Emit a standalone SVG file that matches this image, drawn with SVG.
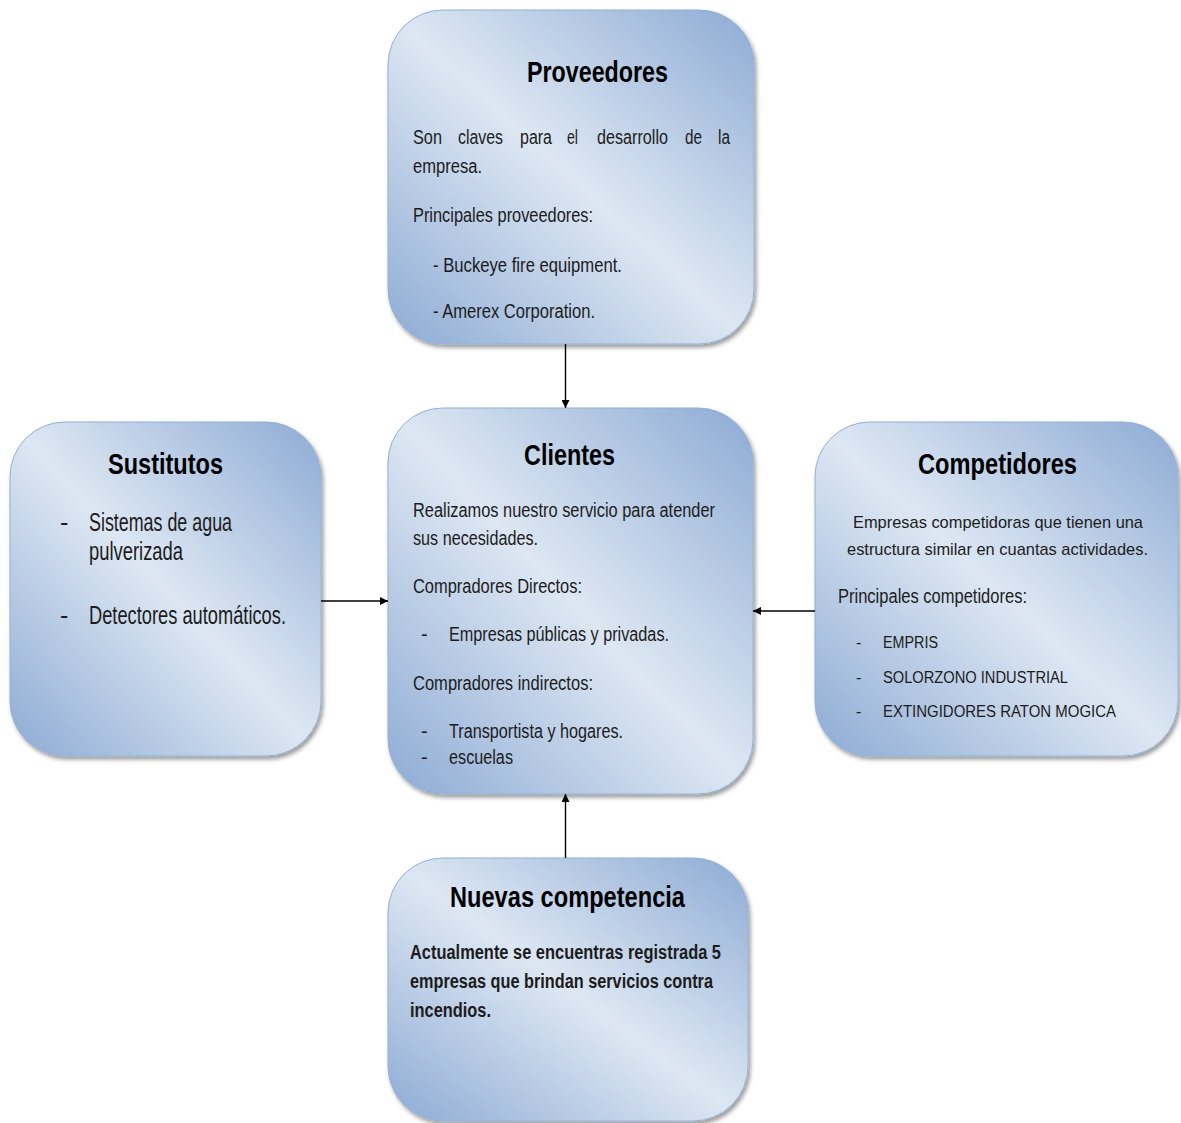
<svg xmlns="http://www.w3.org/2000/svg" width="1181" height="1123" viewBox="0 0 1181 1123">
  <defs>
    <linearGradient id="boxFill" x1="0" y1="1" x2="1" y2="0">
      <stop offset="0" stop-color="#8dabd4"/>
      <stop offset="0.5" stop-color="#dde7f3"/>
      <stop offset="1" stop-color="#8dabd4"/>
    </linearGradient>
    <filter id="shadow" x="-10%" y="-10%" width="125%" height="125%">
      <feDropShadow dx="2" dy="3" stdDeviation="2" flood-color="#000" flood-opacity="0.4"/>
    </filter>
    <marker id="arrow" viewBox="0 0 10 10" refX="10" refY="5" markerWidth="9" markerHeight="8" markerUnits="userSpaceOnUse" orient="auto">
      <path d="M0,0 L10,5 L0,10 z" fill="#000"/>
    </marker>
  </defs>
  <style>
    .box { fill: url(#boxFill); stroke: #94b0d6; stroke-width: 1; filter: url(#shadow); }
    .title { font-family: "Liberation Sans Narrow", "Liberation Sans", Arial, sans-serif; font-weight: bold; font-size: 29px; fill: #000; }
    .body { font-family: "Liberation Sans Narrow", "Liberation Sans", Arial, sans-serif; font-size: 20px; fill: #1c1c1c; }
    .big { font-size: 25px; }
    .mid { font-size: 17px; }
    .small { font-size: 16px; }
    .strong { font-weight: bold; }
    .link { stroke: #000; stroke-width: 1.4; fill: none; marker-end: url(#arrow); }
  </style>

  <rect width="1181" height="1123" fill="#fff"/>

  <!-- Proveedores -->
  <g id="proveedores">
    <rect class="box" x="388" y="10" width="366" height="334" rx="55" ry="55"/>
    <text class="title" x="527" y="82" textLength="141" lengthAdjust="spacingAndGlyphs">Proveedores</text>
    <text class="body" y="144">
      <tspan x="413" textLength="29" lengthAdjust="spacingAndGlyphs">Son</tspan>
      <tspan x="458" textLength="45" lengthAdjust="spacingAndGlyphs">claves</tspan>
      <tspan x="520" textLength="32" lengthAdjust="spacingAndGlyphs">para</tspan>
      <tspan x="567" textLength="11" lengthAdjust="spacingAndGlyphs">el</tspan>
      <tspan x="597" textLength="71" lengthAdjust="spacingAndGlyphs">desarrollo</tspan>
      <tspan x="685" textLength="17" lengthAdjust="spacingAndGlyphs">de</tspan>
      <tspan x="718" textLength="12" lengthAdjust="spacingAndGlyphs">la</tspan>
    </text>
    <text class="body" x="413" y="173" textLength="69" lengthAdjust="spacingAndGlyphs">empresa.</text>
    <text class="body" x="413" y="222" textLength="180" lengthAdjust="spacingAndGlyphs">Principales proveedores:</text>
    <text class="body" x="433" y="272" textLength="189" lengthAdjust="spacingAndGlyphs">- Buckeye fire equipment.</text>
    <text class="body" x="433" y="318" textLength="162" lengthAdjust="spacingAndGlyphs">- Amerex Corporation.</text>
  </g>

  <!-- Sustitutos -->
  <g id="sustitutos">
    <rect class="box" x="10" y="422" width="311" height="334" rx="55" ry="55"/>
    <text class="title" x="108" y="474" textLength="115" lengthAdjust="spacingAndGlyphs">Sustitutos</text>
    <text class="body big" x="60" y="531">-</text>
    <text class="body big" x="89" y="531" textLength="143" lengthAdjust="spacingAndGlyphs">Sistemas de agua</text>
    <text class="body big" x="89" y="560" textLength="94" lengthAdjust="spacingAndGlyphs">pulverizada</text>
    <text class="body big" x="60" y="624">-</text>
    <text class="body big" x="89" y="624" textLength="197" lengthAdjust="spacingAndGlyphs">Detectores automáticos.</text>
  </g>

  <!-- Clientes -->
  <g id="clientes">
    <rect class="box" x="388" y="408" width="365" height="386" rx="55" ry="55"/>
    <text class="title" x="524" y="465" textLength="91" lengthAdjust="spacingAndGlyphs">Clientes</text>
    <text class="body" x="413" y="517" textLength="302" lengthAdjust="spacingAndGlyphs">Realizamos nuestro servicio para atender</text>
    <text class="body" x="413" y="545" textLength="125" lengthAdjust="spacingAndGlyphs">sus necesidades.</text>
    <text class="body" x="413" y="593" textLength="169" lengthAdjust="spacingAndGlyphs">Compradores Directos:</text>
    <text class="body" x="421" y="641">-</text>
    <text class="body" x="449" y="641" textLength="220" lengthAdjust="spacingAndGlyphs">Empresas públicas y privadas.</text>
    <text class="body" x="413" y="690" textLength="180" lengthAdjust="spacingAndGlyphs">Compradores indirectos:</text>
    <text class="body" x="421" y="738">-</text>
    <text class="body" x="449" y="738" textLength="174" lengthAdjust="spacingAndGlyphs">Transportista y hogares.</text>
    <text class="body" x="421" y="764">-</text>
    <text class="body" x="449" y="764" textLength="64" lengthAdjust="spacingAndGlyphs">escuelas</text>
  </g>

  <!-- Competidores -->
  <g id="competidores">
    <rect class="box" x="815" y="422" width="363" height="334" rx="55" ry="55"/>
    <text class="title" x="918" y="474" textLength="159" lengthAdjust="spacingAndGlyphs">Competidores</text>
    <text class="body mid" x="853" y="528" textLength="290" lengthAdjust="spacingAndGlyphs">Empresas competidoras que tienen una</text>
    <text class="body mid" x="847" y="555" textLength="301" lengthAdjust="spacingAndGlyphs">estructura similar en cuantas actividades.</text>
    <text class="body" x="838" y="603" textLength="189" lengthAdjust="spacingAndGlyphs">Principales competidores:</text>
    <text class="body small" x="856" y="648">-</text>
    <text class="body small" x="883" y="648" textLength="55" lengthAdjust="spacingAndGlyphs">EMPRIS</text>
    <text class="body small" x="856" y="683">-</text>
    <text class="body small" x="883" y="683" textLength="185" lengthAdjust="spacingAndGlyphs">SOLORZONO INDUSTRIAL</text>
    <text class="body small" x="856" y="717">-</text>
    <text class="body small" x="883" y="717" textLength="233" lengthAdjust="spacingAndGlyphs">EXTINGIDORES RATON MOGICA</text>
  </g>

  <!-- Nuevas competencia -->
  <g id="nuevas-competencia">
    <rect class="box" x="388" y="858" width="360" height="263" rx="55" ry="55"/>
    <text class="title" x="450" y="907" textLength="235" lengthAdjust="spacingAndGlyphs">Nuevas competencia</text>
    <text class="body strong" x="410" y="959" textLength="311" lengthAdjust="spacingAndGlyphs">Actualmente se encuentras registrada 5</text>
    <text class="body strong" x="410" y="988" textLength="303" lengthAdjust="spacingAndGlyphs">empresas que brindan servicios contra</text>
    <text class="body strong" x="410" y="1017" textLength="81" lengthAdjust="spacingAndGlyphs">incendios.</text>
  </g>

  <!-- Connectors -->
  <g id="connectors">
    <line class="link" x1="565.5" y1="344" x2="565.5" y2="408"/>
    <line class="link" x1="321" y1="601" x2="388" y2="601"/>
    <line class="link" x1="815" y1="611" x2="753" y2="611"/>
    <line class="link" x1="565.5" y1="858" x2="565.5" y2="794"/>
  </g>
</svg>
